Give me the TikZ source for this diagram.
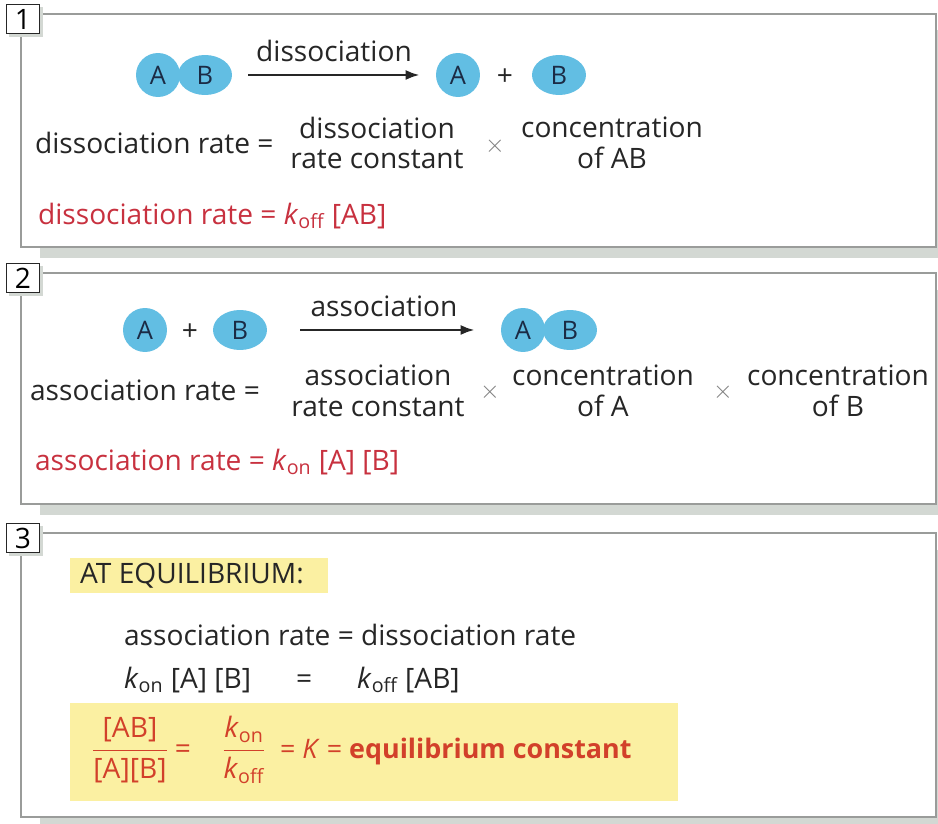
\documentclass[tikz,border=0pt]{standalone}
\usepackage{fontspec}
\setmainfont{Open Sans}
\usetikzlibrary{shapes.geometric, arrows.meta, positioning}
\definecolor{blueMol}{HTML}{62BEE3}
\definecolor{inkMol}{HTML}{1B2B45}
\definecolor{textDark}{HTML}{262626}
\definecolor{redRate}{HTML}{C8313F}
\definecolor{redEq}{HTML}{D2402A}
\definecolor{yellowNote}{HTML}{FBF0A2}
\definecolor{grayBorder}{HTML}{9A9C9A}
\definecolor{grayShadow}{HTML}{D3D8D3}
\newcommand{\kon}{\textit{k}\textsubscript{on}}
\newcommand{\koff}{\textit{k}\textsubscript{off}}

\begin{document}
\begin{tikzpicture}[x=0.02cm, y=-0.02cm,
        panel/.style={draw=grayBorder, line width=1.2pt, fill=white},
        shade/.style={fill=grayShadow, draw=none},
        numbox/.style={draw=textDark, fill=white, line width=0.6pt, minimum width=0.66cm,
            minimum height=0.58cm, inner sep=0pt, font=\fontsize{16}{16}\selectfont},
        molA/.style={circle, fill=blueMol, minimum size=0.88cm, inner sep=0pt,
            text=inkMol, font=\fontsize{14.5}{15}\selectfont},
        molB/.style={ellipse, fill=blueMol, minimum width=1.08cm, minimum height=0.8cm,
            inner sep=0pt, text=inkMol, font=\fontsize{14.5}{15}\selectfont},
        txt/.style={text=textDark, font=\fontsize{16}{17.5}\selectfont, inner sep=1pt},
        two/.style={txt, align=center},
        red/.style={txt, text=redRate},
        times/.style={text=gray, font=\Large, inner sep=0pt},
        react/.style={-{Latex[length=2.8mm, width=2mm]}, line width=1.4pt, textDark},
        note/.style={fill=yellowNote, draw=none}
    ]
    \useasboundingbox (0,0) rectangle (938,824);

    % panel 1
    \fill[shade] (40,30) rectangle (938,258);
    \draw[panel] (21,14) rectangle (936,247);
    \fill[shade] (9,7) rectangle (43,37);
    \node[numbox] (n1) at (23,19) {1};

    \node[molB] (ab1B) at (205,75) {B};
    \node[molA] (ab1A) at (158,75) {A};
    \node[molA] (a1) at (458,75) {A};
    \node[txt] (plus1) at (505,77) {+};
    \node[molB] (b1) at (559,75) {B};
    \draw[react, shorten <=0.32cm, shorten >=0.32cm] (ab1B) -- node[txt, above=6pt]{dissociation} (a1);

    \node[txt, anchor=west] (dRate) at (33,143) {dissociation rate =};
    \node[two] (dConst) at (377,143) {dissociation\\rate constant};
    \node[times] (dx1) at (495,146) {$\times$};
    \node[two] (dConc) at (612,143) {concentration\\of AB};
    \node[red, anchor=west] (dFormula) at (36,216) {dissociation rate = \koff\ [AB]};

    % panel 2
    \fill[shade] (40,290) rectangle (938,515);
    \draw[panel] (21,273) rectangle (936,504);
    \fill[shade] (9,266) rectangle (43,296);
    \node[numbox] (n2) at (23,278) {2};

    \node[molA] (a2) at (145,330) {A};
    \node[txt] (plus2) at (190,332) {+};
    \node[molB] (b2) at (240,330) {B};
    \node[molB] (ab2B) at (570,330) {B};
    \node[molA] (ab2A) at (523,330) {A};
    \draw[react, shorten <=0.66cm, shorten >=0.52cm] (b2) -- node[txt, above=6pt]{association} (ab2A);

    \node[txt, anchor=west] (aRate) at (28,390) {association rate =};
    \node[two] (aConst) at (378,391) {association\\rate constant};
    \node[times] (ax1) at (490,392) {$\times$};
    \node[two] (aConcA) at (603,391) {concentration\\of A};
    \node[times] (ax2) at (723,392) {$\times$};
    \node[two] (aConcB) at (838,391) {concentration\\of B};
    \node[red, anchor=west] (aFormula) at (33,462) {association rate = \kon\ [A] [B]};

    % panel 3
    \fill[shade] (40,550) rectangle (938,824);
    \draw[panel] (21,533) rectangle (936,817);
    \fill[shade] (9,526) rectangle (43,556);
    \node[numbox] (n3) at (23,538) {3};

    \fill[note] (70,558) rectangle (328,593);
    \node[txt, anchor=west] (eqTitle) at (78,576) {AT EQUILIBRIUM:};
    \node[txt, anchor=west] (eqRates) at (122,635) {association rate = dissociation rate};
    \node[txt, anchor=west] (eqK) at (122,680) {\kon\ [A] [B]\hspace{1.6em}=\hspace{1.6em}\koff\ [AB]};

    \fill[note] (70,703) rectangle (678,801);
    \node[txt, text=redEq] (fracConc) at (130,750) {$\displaystyle\frac{\mbox{[AB]}}{\mbox{[A][B]}}$};
    \node[txt, text=redEq] (eqSign) at (183,752) {=};
    \node[txt, text=redEq] (fracRate) at (244,750) {$\displaystyle\frac{\mbox{\kon}}{\mbox{\koff}}$};
    \node[txt, text=redEq, anchor=west, font=\fontsize{15.3}{17}\selectfont] (eqConst) at (278,752) {= \textit{K} = \textbf{equilibrium constant}};
\end{tikzpicture}
\end{document}
